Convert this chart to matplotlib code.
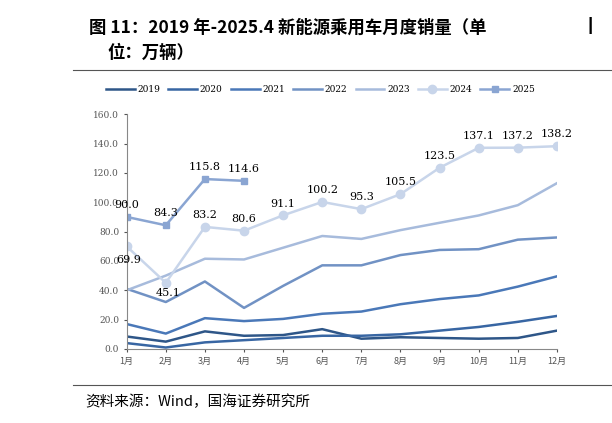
import numpy as np
import matplotlib.pyplot as plt

plt.rcParams['font.family'] = ['Noto Sans CJK SC']

months = ['%d月' % i for i in range(1, 13)]
years = ['2019', '2020', '2021', '2022', '2023', '2024', '2025']
s2019 = [8.5, 5.0, 12.0, 9.0, 9.5, 13.5, 7.0, 8.0, 7.5, 7.0, 7.5, 12.5]
s2020 = [4.0, 1.0, 4.5, 6.0, 7.5, 9.0, 9.0, 10.0, 12.5, 15.0, 18.5, 22.5]
s2021 = [17.0, 10.5, 21.0, 19.0, 20.5, 24.0, 25.5, 30.5, 34.0, 36.5, 42.5, 49.5]
s2022 = [41.0, 32.0, 46.0, 28.0, 43.0, 57.0, 57.0, 64.0, 67.5, 68.0, 74.5, 76.0]
s2023 = [40.0, 50.0, 61.5, 61.0, 69.0, 77.0, 75.0, 81.0, 86.0, 91.0, 98.0, 113.0]
s2024 = [69.9, 45.1, 83.2, 80.6, 91.1, 100.2, 95.3, 105.5, 123.5, 137.1, 137.2, 138.2]
s2025 = [90.0, 84.3, 115.8, 114.6]

colors = ['#2e5688', '#3866a3', '#4a78b8', '#7192c4', '#a7bbdc', '#c8d5ea', '#8aa5d2']

fig = plt.figure(figsize=(6.12, 4.23), dpi=100)
fig.text(0.145, 0.935, '图 11：2019 年-2025.4 新能源乘用车月度销量（单', fontsize=12.5,
         fontweight='bold', ha='left', va='center')
fig.text(0.95, 0.935, '\u4e28', fontsize=12.5, fontweight='bold', ha='left', va='center')
fig.text(0.175, 0.875, '位：万辆）', fontsize=12.5, fontweight='bold', ha='left', va='center')
fig.add_artist(plt.Line2D([0.12, 1.0], [0.835, 0.835], color='#555555', lw=0.8))
fig.add_artist(plt.Line2D([0.12, 1.0], [0.09, 0.09], color='#555555', lw=0.8))
fig.text(0.14, 0.05, '资料来源：Wind，国海证券研究所', fontsize=10.5, ha='left', va='center')

ax = fig.add_axes([0.207, 0.175, 0.703, 0.555])
x = np.arange(12)
series = [s2019, s2020, s2021, s2022, s2023]
for name, s, c in zip(years[:5], series, colors[:5]):
    ax.plot(x, s, color=c, lw=1.8, label=name)
ax.plot(x, s2024, color=colors[5], lw=1.8, marker='o', ms=6, label='2024')
ax.plot(x[:4], s2025, color=colors[6], lw=1.8, marker='s', ms=5, label='2025')

for i, v in enumerate(s2024):
    dy = -11 if i == 0 else (-9 if i == 1 else 6)
    ax.text(i + (0.05 if i < 2 else 0), v + dy, '%.1f' % v, fontsize=8, ha='center',
            family='DejaVu Serif')
for i, v in enumerate(s2025):
    ax.text(i, v + 6, '%.1f' % v, fontsize=8, ha='center', family='DejaVu Serif')

ax.set_xlim(0, 11)
ax.set_ylim(0, 160)
ax.set_xticks(x)
ax.set_xticklabels(months, fontsize=6.5)
ax.set_yticks(np.arange(0, 161, 20))
ax.set_yticklabels(['%.1f' % v for v in np.arange(0, 161, 20)], fontsize=6.5,
                   family='DejaVu Serif', color='#555555')
for sp in ['top', 'right']:
    ax.spines[sp].set_visible(False)
ax.spines['left'].set_color('#888888')
ax.spines['bottom'].set_color('#888888')
ax.tick_params(length=2, colors='#555555')
ax.legend(ncol=7, loc='lower center', bbox_to_anchor=(0.45, 1.05), frameon=False,
          handlelength=3.2, columnspacing=0.9, handletextpad=0.3,
          prop={'family': 'DejaVu Serif', 'size': 6.5})

fig.savefig('out.png', dpi=100)
